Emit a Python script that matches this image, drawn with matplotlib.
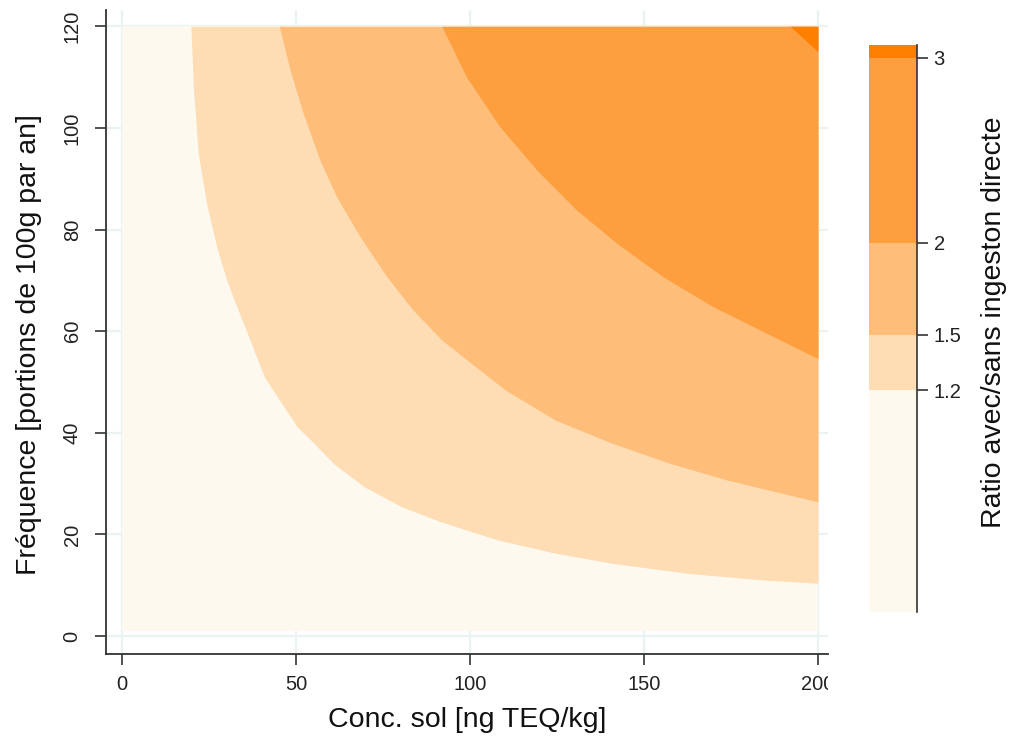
import matplotlib
matplotlib.use("Agg")
import matplotlib.pyplot as plt
from matplotlib.transforms import Bbox, TransformedBbox

# ---- data (contour boundaries) ----
# boundary ratio = 1.2
b12_x = [19.8, 20.5, 21.9, 24.3, 27.2, 30.1, 33.4, 36.8, 40.9, 45.3, 50.3, 55.2, 60.7, 69.5,
         80.5, 91.5, 108.0, 124.5, 141.0, 163.0, 184.9, 200]
b12_y = [120, 108.1, 95.0, 85.1, 76.6, 70.0, 64.1, 58.2, 51.0, 46.4, 41.2, 37.9, 34.0, 29.4,
         25.4, 22.5, 18.9, 16.3, 14.3, 12.3, 11.0, 10.4]
# boundary ratio = 1.5
b15_x = [45.2, 48.3, 52.1, 56.9, 61.7, 68.4, 76.1, 83.7, 92.0, 99.2, 110.2, 124.5, 141.0,
         157.4, 173.9, 200]
b15_y = [120, 111.4, 102.8, 93.6, 86.4, 78.6, 70.7, 64.1, 58.2, 54.3, 48.4, 42.5, 37.9,
         34.0, 30.7, 26.4]
# boundary ratio = 2
b2_x = [91.9, 99.0, 108.6, 119.2, 130.7, 142.2, 155.5, 169.9, 184.3, 200]
b2_y = [120, 110.0, 100.2, 91.7, 83.8, 77.3, 70.7, 64.8, 59.9, 54.6]
# boundary ratio = 3
b3_x = [192, 200]
b3_y = [120, 115]

conc_range = [0, 200]
freq_range = [1, 120]

levels = [0.0, 1.2, 1.5, 2.0, 3.0, 3.07]
level_colors = ["#FEF9EF", "#FEDCB4", "#FEBD78", "#FE9F3F", "#FF8000"]
cbar_ticks = [1.2, 1.5, 2, 3]
cbar_ticklabels = ["1.2", "1.5", "2", "3"]

xticks = [0, 50, 100, 150, 200]
yticks = [0, 20, 40, 60, 80, 100, 120]

plt.rcParams['font.family'] = ['Liberation Sans', 'DejaVu Sans']

W, H = 1010, 742
fig = plt.figure(figsize=(W / 100, H / 100), dpi=100)
fig.patch.set_facecolor("white")

# main axes: left 106, right 828, top 10, bottom 654 (px)
ax = fig.add_axes([106 / W, (H - 654) / H, (828 - 106) / W, (654 - 10) / H])
ax.set_xlim(-4.6, 202.9)
ax.set_ylim(-3.54, 123.2)

grid_c = "#EAF2F3"
for v in xticks:
    ax.axvline(v, color=grid_c, lw=1.6, zorder=0)
for v in yticks:
    ax.axhline(v, color=grid_c, lw=1.6, zorder=0)

# filled bands
ax.fill_between(conc_range, freq_range[0], freq_range[1], color=level_colors[0], lw=0, zorder=1)
for bx, by, c in [(b12_x, b12_y, level_colors[1]),
                  (b15_x, b15_y, level_colors[2]),
                  (b2_x, b2_y, level_colors[3]),
                  (b3_x, b3_y, level_colors[4])]:
    ax.fill_between(bx, by, freq_range[1], color=c, lw=0, zorder=2)

for s in ["top", "right"]:
    ax.spines[s].set_visible(False)
for s in ["left", "bottom"]:
    ax.spines[s].set_color("#333333")
    ax.spines[s].set_linewidth(1.3)

ax.set_xticks(xticks)
ax.set_yticks(yticks)
ax.set_xticklabels([str(v) for v in xticks])
ax.set_yticklabels([str(v) for v in yticks])
ax.tick_params(axis="both", length=8, width=1.2, color="#333333", labelsize=14.5,
               labelcolor="#222222")
ax.tick_params(axis="x", pad=7)
ax.tick_params(axis="y", pad=9.5, labelrotation=90)
for lab in ax.get_yticklabels():
    lab.set_va("center")
    lab.set_ha("right")

ax.set_xlabel("Conc. sol [ng TEQ/kg]", fontsize=20.5, color="#111111")
ax.xaxis.set_label_coords(0.5, -0.082)
ax.set_ylabel("Fréquence [portions de 100g par an]", fontsize=20.5, color="#111111")
ax.yaxis.set_label_coords((42 - 106) / (828 - 106), (654 - 345) / 644)

clip = TransformedBbox(Bbox([[0, 0], [828 / W, 1]]), fig.transFigure)
for t in ax.xaxis.get_major_ticks():
    t.label1.set_clip_box(clip)
    t.label1.set_clip_on(True)

# colour bar: x 869-917, y 45-612
cax = fig.add_axes([869 / W, (H - 612) / H, (917 - 869) / W, (612 - 45) / H])
cax.set_xlim(0, 1)
cax.set_ylim(levels[0], levels[-1])
for lo, hi, c in zip(levels[:-1], levels[1:], level_colors):
    cax.axhspan(lo, hi, color=c, lw=0)
for s in ["top", "left", "bottom"]:
    cax.spines[s].set_visible(False)
cax.spines["right"].set_color("#333333")
cax.spines["right"].set_linewidth(1.2)
cax.set_xticks([])
cax.yaxis.tick_right()
cax.set_yticks(cbar_ticks)
cax.set_yticklabels(cbar_ticklabels)
cax.tick_params(axis="y", length=8, width=1.2, color="#333333", labelsize=14.5,
                labelcolor="#222222", pad=4)

fig.text(994 / W, 1 - 322 / H, "Ratio avec/sans ingeston directe", rotation=90,
         ha="center", va="center", fontsize=20.5, color="#111111")

fig.savefig("out.png", dpi=100, facecolor="white")
